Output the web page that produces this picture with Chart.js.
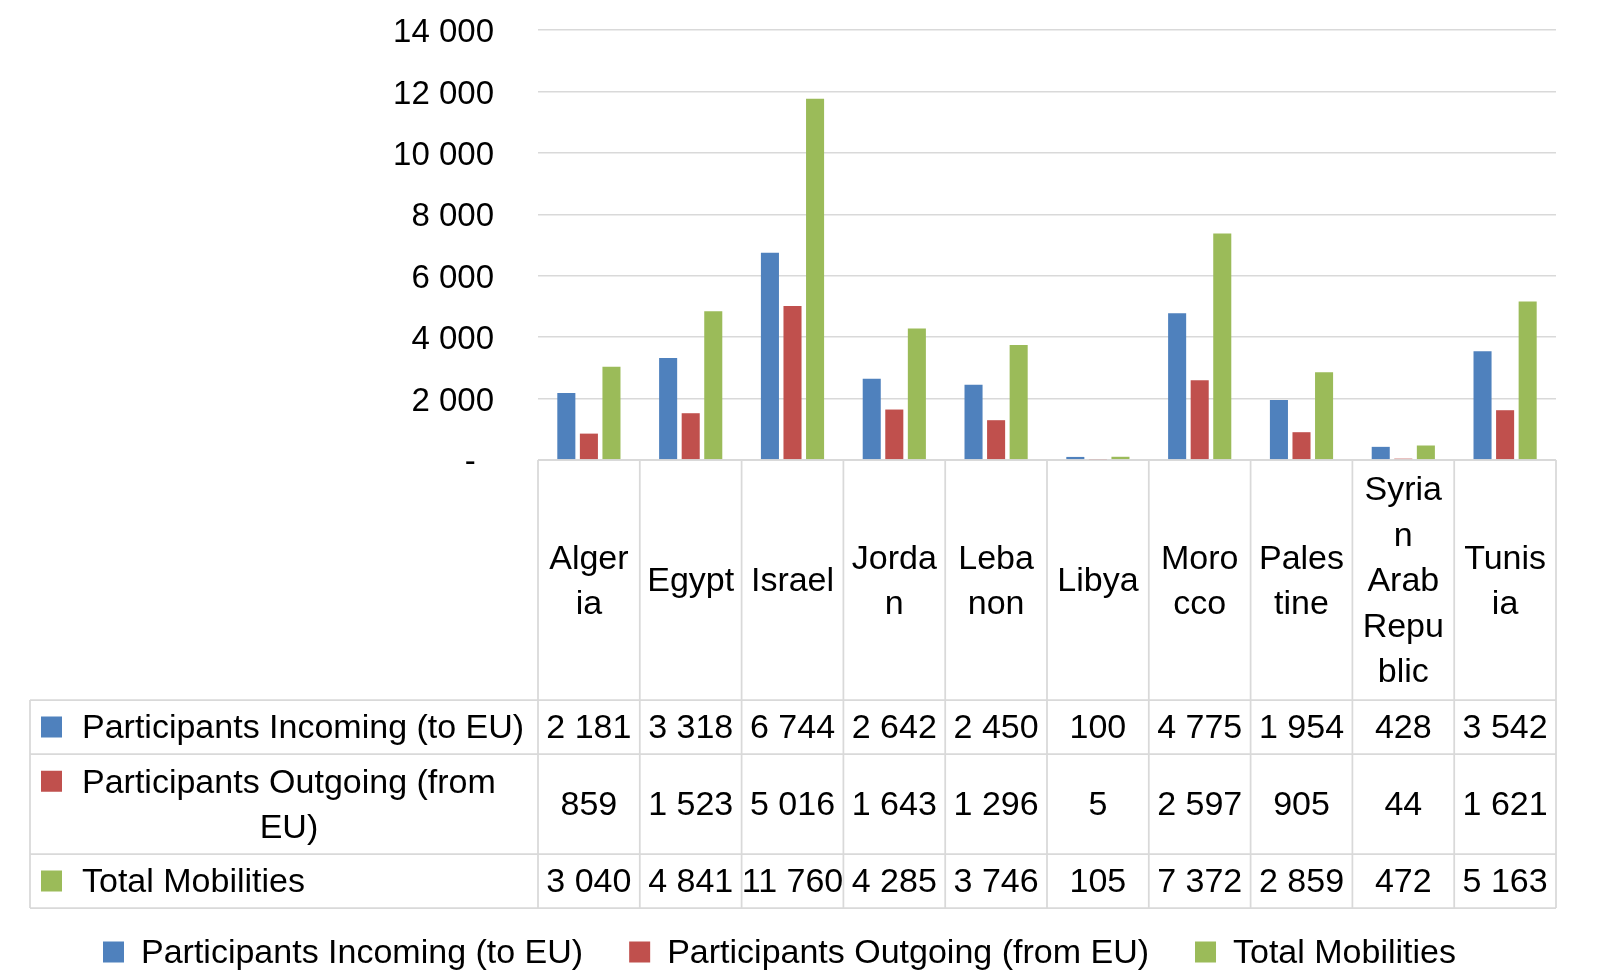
<!DOCTYPE html>
<html><head><meta charset="utf-8">
<script src="https://cdn.jsdelivr.net/npm/chart.js@4"></script>
<style>html,body{margin:0;padding:0;background:#fff;overflow:hidden}canvas{display:block}</style>
</head><body>
<canvas id="c" width="1602" height="980"></canvas>
<script>
const categories = ["Algeria","Egypt","Israel","Jordan","Lebanon","Libya","Morocco","Palestine","Syrian Arab Republic","Tunisia"];
const headerLines = [["Alger","ia"],["Egypt"],["Israel"],["Jorda","n"],["Leba","non"],["Libya"],["Moro","cco"],["Pales","tine"],["Syria","n","Arab","Repu","blic"],["Tunis","ia"]];
const incoming = [2181,3318,6744,2642,2450,100,4775,1954,428,3542];
const outgoing = [859,1523,5016,1643,1296,5,2597,905,44,1621];
const total = [3040,4841,11760,4285,3746,105,7372,2859,472,5163];
const seriesNames = ["Participants Incoming (to EU)","Participants Outgoing (from EU)","Total Mobilities"];
const rowLabelLines = [["Participants Incoming (to EU)"],["Participants Outgoing (from","EU)"],["Total Mobilities"]];
const seriesColors = ["#4F81BD","#C0504D","#9BBB59"];
const yMin = 0, yMax = 14000, yStep = 2000;

const FONT = "Liberation Sans";
const FS = 33;
const TFS = 34;
function fmt(v){ return v === 0 ? "-\u2007" : String(v).replace(/\B(?=(\d{3})+(?!\d))/g, " "); }

const tablePlugin = {
  id: 'dataTable',
  afterDraw(chart){
    const ctx = chart.ctx;
    const ca = chart.chartArea;
    const n = categories.length;
    const colW = (ca.right - ca.left) / n;
    const tableLeft = 30;
    const headTop = ca.bottom;
    const rowBounds = [700, 754, 854, 908];
    const lineH = 45.5;
    const dy = 2;
    ctx.save();
    ctx.strokeStyle = '#d9d9d9';
    ctx.lineWidth = 1.75;
    ctx.beginPath();
    ctx.moveTo(ca.left, headTop); ctx.lineTo(ca.right, headTop);
    for (const yb of rowBounds){ ctx.moveTo(tableLeft, yb); ctx.lineTo(ca.right, yb); }
    ctx.moveTo(tableLeft, rowBounds[0]); ctx.lineTo(tableLeft, rowBounds[3]);
    for (let i=0;i<=n;i++){ const x = ca.left + i*colW; ctx.moveTo(x, headTop); ctx.lineTo(x, rowBounds[3]); }
    ctx.stroke();

    ctx.fillStyle = '#000';
    ctx.font = TFS + 'px "' + FONT + '"';
    ctx.textBaseline = 'middle';
    ctx.textAlign = 'center';
    const hc = (headTop + rowBounds[0]) / 2 + dy;
    headerLines.forEach((lines, i) => {
      const cx = ca.left + (i+0.5)*colW;
      const y0 = hc - (lines.length-1)*lineH/2;
      lines.forEach((t, k) => ctx.fillText(t, cx, y0 + k*lineH));
    });
    const series = [incoming, outgoing, total];
    series.forEach((vals, r) => {
      const yc = (rowBounds[r] + rowBounds[r+1]) / 2 + dy;
      vals.forEach((v, i) => {
        ctx.textAlign = 'center';
        ctx.fillText(fmt(v), ca.left + (i+0.5)*colW, yc);
      });
      const lines = rowLabelLines[r];
      const keyY = (lines.length > 1 ? yc - lineH/2 : yc) - dy;
      ctx.fillStyle = seriesColors[r];
      ctx.fillRect(41, keyY - 10.5, 21, 21);
      ctx.fillStyle = '#000';
      if (lines.length === 1){
        ctx.textAlign = 'left';
        ctx.fillText(lines[0], 82, yc);
      } else {
        const w0 = ctx.measureText(lines[0]).width;
        ctx.textAlign = 'left';
        ctx.fillText(lines[0], 82, yc - lineH/2);
        ctx.textAlign = 'center';
        ctx.fillText(lines[1], 82 + w0/2, yc + lineH/2);
      }
    });
    let x = 103;
    const ly = 952;
    chart.data.datasets.forEach((ds) => {
      ctx.fillStyle = ds.backgroundColor;
      ctx.fillRect(x, ly - 10.5, 21, 21);
      x += 21 + 17;
      ctx.fillStyle = '#000';
      ctx.textAlign = 'left';
      ctx.fillText(ds.label, x, ly + dy);
      x += ctx.measureText(ds.label).width + 46;
    });
    ctx.restore();
  }
};

new Chart(document.getElementById('c'), {
  type: 'bar',
  data: {
    labels: categories,
    datasets: [
      { label: seriesNames[0], data: incoming, backgroundColor: seriesColors[0] },
      { label: seriesNames[1], data: outgoing, backgroundColor: seriesColors[1] },
      { label: seriesNames[2], data: total, backgroundColor: seriesColors[2] }
    ]
  },
  options: {
    responsive: false,
    animation: false,
    devicePixelRatio: 1,
    layout: { padding: { top: 30, right: 46, bottom: 520, left: 0 } },
    datasets: { bar: { categoryPercentage: 0.665, barPercentage: 0.8 } },
    plugins: { legend: { display: false }, tooltip: { enabled: false } },
    scales: {
      x: { display: false },
      y: {
        min: yMin, max: yMax,
        afterFit: s => { s.width = 538; },
        border: { display: false },
        grid: { color: '#d9d9d9', lineWidth: 1.5, drawTicks: true, tickLength: 36, tickColor: 'rgba(0,0,0,0)' },
        ticks: { stepSize: yStep, padding: 8, color: '#000', font: { family: FONT, size: FS, lineHeight: '6px' }, callback: v => ["", fmt(v)] }
      }
    }
  },
  plugins: [tablePlugin]
});
</script>
</body></html>
